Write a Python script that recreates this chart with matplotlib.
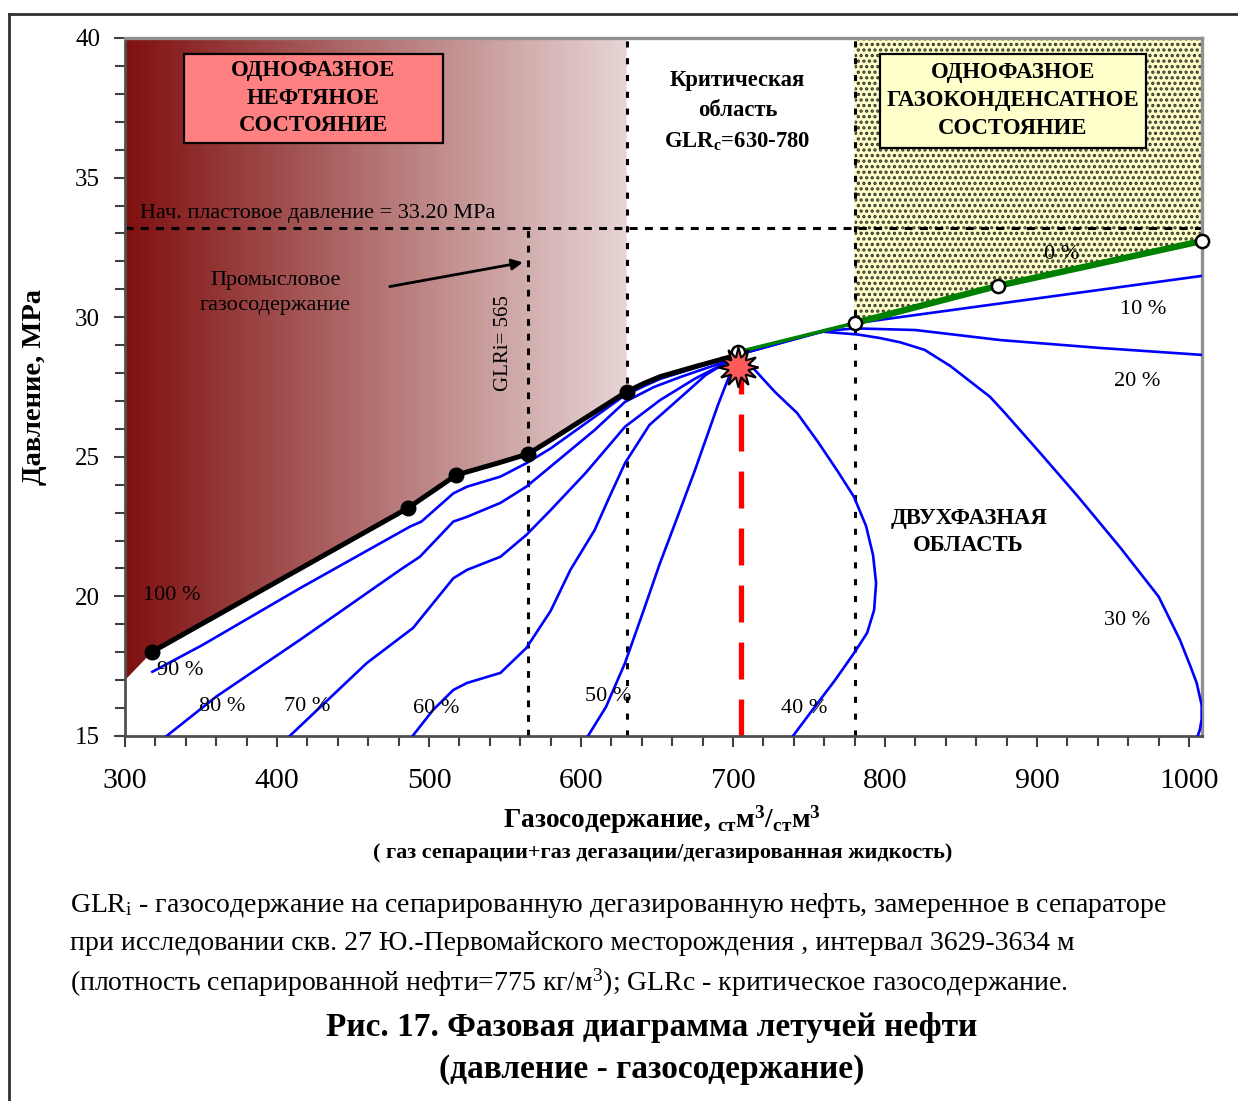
import numpy as np
import matplotlib
matplotlib.use("Agg")
import matplotlib.pyplot as plt
from matplotlib.patches import Polygon, Rectangle
from matplotlib.ticker import MultipleLocator
from matplotlib.lines import Line2D

plt.rcParams["font.family"] = ["Liberation Serif", "DejaVu Serif"]
plt.rcParams["mathtext.fontset"] = "custom"
plt.rcParams["mathtext.rm"] = "Liberation Serif"
plt.rcParams["mathtext.it"] = "Liberation Serif:italic"
plt.rcParams["mathtext.bf"] = "Liberation Serif:bold"
plt.rcParams["hatch.color"] = "#3a3a28"
plt.rcParams["hatch.linewidth"] = 1.6

# ---- data ----
# bubble-point line (100 %) and measured points
bubble_glr = [318, 486, 518, 545, 565, 580, 630, 641, 652, 675, 695, 703]
bubble_p = [18.02, 23.16, 24.35, 24.77, 25.10, 25.60, 27.33, 27.62, 27.87, 28.23, 28.53, 28.65]
meas_glr = [318, 486, 518, 565, 630]
meas_p = [18.02, 23.16, 24.35, 25.10, 27.33]

# dew-point line (0 %)
dew_glr = [703, 780, 874, 1008.5]
dew_p = [28.75, 29.79, 31.12, 32.73]

# iso-quality lines (liquid volume %)
q90_glr = [318, 351, 415, 487.5, 495, 516, 525, 547, 564, 580, 629, 641, 652, 675, 703]
q90_p = [17.30, 18.26, 20.29, 22.50, 22.68, 23.69, 23.93, 24.29, 24.77, 25.30, 27.21, 27.52, 27.79, 28.18, 28.65]
q80_glr = [318.6, 360, 415, 481, 494, 516, 525, 547, 564, 580, 609, 629, 648, 666, 695, 703]
q80_p = [14.62, 16.41, 18.44, 20.95, 21.42, 22.68, 22.85, 23.35, 23.93, 24.65, 25.96, 26.97, 27.50, 27.87, 28.41, 28.65]
q70_glr = [400, 459, 489.5, 502.6, 516, 525, 547, 564, 580, 603, 629, 652, 675, 695, 703]
q70_p = [14.57, 17.61, 18.87, 19.75, 20.65, 20.95, 21.42, 22.20, 23.09, 24.42, 26.08, 27.03, 27.80, 28.36, 28.65]
q60_glr = [483, 502.6, 516, 525, 547, 564, 580, 593, 609, 619, 629, 645, 666, 682, 695, 703]
q60_p = [14.57, 15.93, 16.65, 16.90, 17.26, 18.15, 19.48, 20.95, 22.38, 23.60, 24.78, 26.14, 27.15, 27.93, 28.36, 28.65]
q50_glr = [600, 616.4, 628.9, 640.8, 652, 663.2, 675, 690.1, 699.9, 703]
q50_p = [14.60, 16.04, 17.61, 19.44, 21.20, 22.81, 24.53, 26.86, 28.23, 28.65]
q40_glr = [703, 712.5, 727.6, 742.1, 755.9, 769.1, 779.6, 787.5, 792.1, 794.1, 792.8, 788.2,
           779.6, 767.1, 750.7, 737.5, 731]
q40_p = [28.65, 28.22, 27.32, 26.57, 25.53, 24.46, 23.56, 22.52, 21.48, 20.48, 19.51, 18.69,
         17.97, 17.00, 15.82, 14.86, 14.50]
q30_glr = [703, 730, 759, 782, 797, 810, 826, 843, 869, 878, 902, 927, 955, 980, 994, 1001,
           1005, 1008.3, 1008.3, 1007, 1003]
q30_p = [28.65, 29.10, 29.48, 29.38, 29.25, 29.10, 28.83, 28.25, 27.15, 26.62, 25.14, 23.57, 21.73,
         19.99, 18.44, 17.48, 16.90, 16.10, 15.60, 15.21, 14.57]
q20_glr = [703, 760, 780, 820, 876, 941, 1008.5]
q20_p = [28.65, 29.50, 29.60, 29.54, 29.18, 28.90, 28.65]
q10_glr = [703, 760, 780, 1008.5]
q10_p = [28.65, 29.52, 29.78, 31.48]

crit_glr = 703
crit_p = 28.2
p_init = 33.20
glr_i = 565
glr_c = [630, 780]

pct_labels = ["100 %", "90 %", "80 %", "70 %", "60 %", "50 %", "40 %", "0 %", "10 %", "20 %", "30 %"]
pct_x = [331, 336, 364, 420, 505, 618, 747, 916, 970, 966, 959]
pct_y = [20.05, 17.36, 16.04, 16.04, 16.0, 16.43, 16.0, 32.26, 30.26, 27.68, 19.15]

fig = plt.figure(figsize=(12.38, 11.01), dpi=100)
ax = fig.add_axes([0.10097, 0.33152, 0.86995, 0.63397])
ax.set_xlim(300, 1008.5)
ax.set_ylim(15, 40)

# gradient single-phase oil zone
c_left = np.array([128, 16, 16]) / 255
c_right = np.array([231, 213, 213]) / 255
t = np.linspace(0, 1, 256)
img = (c_left[None, :] + (c_right - c_left)[None, :] * t[:, None])[None, :, :]
verts = [(300, 40), (glr_c[0], 40)] + list(zip(bubble_glr[:7][::-1], bubble_p[:7][::-1])) + [(300, 17.0)]
poly = Polygon(verts, closed=True, facecolor="none", edgecolor="none")
ax.add_patch(poly)
im = ax.imshow(img, extent=(300, glr_c[0], 15, 40), aspect="auto", zorder=0, interpolation="bilinear")
im.set_clip_path(poly)

# gas-condensate zone (dotted)
ax.fill_between(dew_glr[1:], dew_p[1:], 40, facecolor="#FFFFCC", edgecolor="#3a3a28",
                hatch="...", linewidth=0, zorder=0)

# reference lines
ax.axhline(p_init, color="black", lw=2.2, ls=(0, (2.6, 2.4)), zorder=1)
ax.plot([glr_i, glr_i], [15, p_init], color="black", lw=2.2, ls=(0, (2.2, 2.6)), zorder=1)
for g in glr_c:
    ax.axvline(g, color="black", lw=2.2, ls=(0, (2.0, 3.5)), zorder=1)
ax.plot([705, 705], [15, crit_p], color="#FF0000", lw=3.8, ls=(0, (7, 3.8)), zorder=2)

# quality lines
for gx, py in [(q90_glr, q90_p), (q80_glr, q80_p), (q70_glr, q70_p), (q60_glr, q60_p),
               (q50_glr, q50_p), (q40_glr, q40_p), (q30_glr, q30_p), (q20_glr, q20_p),
               (q10_glr, q10_p)]:
    ax.plot(gx, py, color="#0000FF", lw=1.9, zorder=3, solid_joinstyle="round")

# dew line
ax.plot(dew_glr[:2], dew_p[:2], color="#008000", lw=2.6, zorder=3.5, solid_capstyle="butt")
ax.plot(dew_glr[1:], dew_p[1:], color="#008000", lw=4.6, zorder=3.5, solid_capstyle="butt")
# bubble line
ax.plot(bubble_glr, bubble_p, color="black", lw=3.6, zorder=4, solid_joinstyle="round")
ax.plot(meas_glr, meas_p, "o", color="black", ms=10.5, zorder=5)
ax.plot(dew_glr, dew_p, "o", mfc="white", mec="black", mew=1.8, ms=9.5, zorder=5, clip_on=False)
ax.plot([crit_glr], [crit_p], marker=(12, 1, 0), ms=29, mfc="#FF5A5A", mec="black", mew=1.5, zorder=6)

# boxes
ax.add_patch(Rectangle((338.8, 36.24), 170.4, 3.19, facecolor="#FF8080", edgecolor="black", lw=1.6, zorder=7))
ax.text(424, 37.85, "ОДНОФАЗНОЕ\nНЕФТЯНОЕ\nСОСТОЯНИЕ", ha="center", va="center", fontsize=16.4,
        fontweight="bold", linespacing=1.43, zorder=8)
ax.add_patch(Rectangle((796.7, 36.06), 175.0, 3.37, facecolor="#FFFFCC", edgecolor="black", lw=1.6, zorder=7))
ax.text(884, 37.75, "ОДНОФАЗНОЕ\nГАЗОКОНДЕНСАТНОЕ\nСОСТОЯНИЕ", ha="center", va="center", fontsize=16.4,
        fontweight="bold", linespacing=1.43, zorder=8)
ax.text(703, 37.36, "Критическая\nобласть\nGLR$_\\mathbf{c}$=630-780", ha="center", va="center",
        fontsize=16.3, fontweight="bold", linespacing=1.55, zorder=8)
ax.text(855, 22.31, "ДВУХФАЗНАЯ\nОБЛАСТЬ", ha="center", va="center", fontsize=16.4,
        fontweight="bold", linespacing=1.4, zorder=8)
ax.text(310, 33.73, "Нач. пластовое давление = 33.20 MPa", ha="left", va="center", fontsize=16, zorder=8)
ax.text(399, 30.87, "Промысловое\nгазосодержание", ha="center", va="center", fontsize=16,
        linespacing=1.48, zorder=8)
ax.text(548.7, 29.08, "GLRi= 565", ha="center", va="center", fontsize=15, rotation=90, zorder=8)
ax.annotate("", xy=(563.5, 31.98), xytext=(472.4, 31.08),
            arrowprops=dict(arrowstyle="-|>", color="black", lw=2, mutation_scale=16), zorder=8)
for lab, lx, ly in zip(pct_labels, pct_x, pct_y):
    ax.text(lx, ly, lab, ha="center", va="center", fontsize=16, zorder=8)

# axes styling
ax.set_xticks(range(300, 1001, 100))
ax.set_yticks(range(15, 41, 5))
ax.xaxis.set_minor_locator(MultipleLocator(20))
ax.yaxis.set_minor_locator(MultipleLocator(1))
ax.tick_params(which="both", direction="out", colors="#404040", labelcolor="black", width=1.5)
ax.tick_params(which="major", length=8)
ax.tick_params(which="minor", length=7)
ax.tick_params(axis="x", labelsize=21.5, pad=15)
ax.tick_params(axis="y", labelsize=18, pad=10)
for s in ["left", "bottom"]:
    ax.spines[s].set_color("#505050")
    ax.spines[s].set_linewidth(2)
for s in ["top", "right"]:
    ax.spines[s].set_color("#909090")
    ax.spines[s].set_linewidth(2.4)

ax.set_ylabel("Давление, МРа", fontsize=20.5, fontweight="bold", labelpad=20)

fig.text(0.535, 0.2555, "Газосодержание, $_{\\mathbf{ст}}$м$^{\\mathbf{3}}$/$_{\\mathbf{ст}}$м$^{\\mathbf{3}}$",
         ha="center", va="center", fontsize=19.7, fontweight="bold")
fig.text(0.5355, 0.2248, "( газ сепарации+газ дегазации/дегазированная жидкость)",
         ha="center", va="center", fontsize=16, fontweight="bold")
fig.text(0.0565, 0.1780, "GLR$_{\\mathrm{i}}$ - газосодержание на сепарированную дегазированную нефть, замеренное в сепараторе",
         ha="left", va="center", fontsize=20)
fig.text(0.0565, 0.1426, "при исследовании скв. 27 Ю.-Первомайского месторождения , интервал 3629-3634 м",
         ha="left", va="center", fontsize=20)
fig.text(0.0565, 0.1072, "(плотность сепарированной нефти=775 кг/м$^{3}$); GLRc - критическое газосодержание.",
         ha="left", va="center", fontsize=20)
fig.text(0.526, 0.0672, "Рис. 17. Фазовая диаграмма летучей нефти", ha="center", va="center",
         fontsize=24, fontweight="bold")
fig.text(0.526, 0.0290, "(давление - газосодержание)", ha="center", va="center",
         fontsize=24, fontweight="bold")

# outer frame
fig.add_artist(Line2D([0.0073, 0.0073], [0, 0.9873], color="#303030", lw=2, transform=fig.transFigure))
fig.add_artist(Line2D([0.0073, 1.0], [0.9873, 0.9873], color="#303030", lw=2, transform=fig.transFigure))

fig.savefig("out.png", dpi=100)
